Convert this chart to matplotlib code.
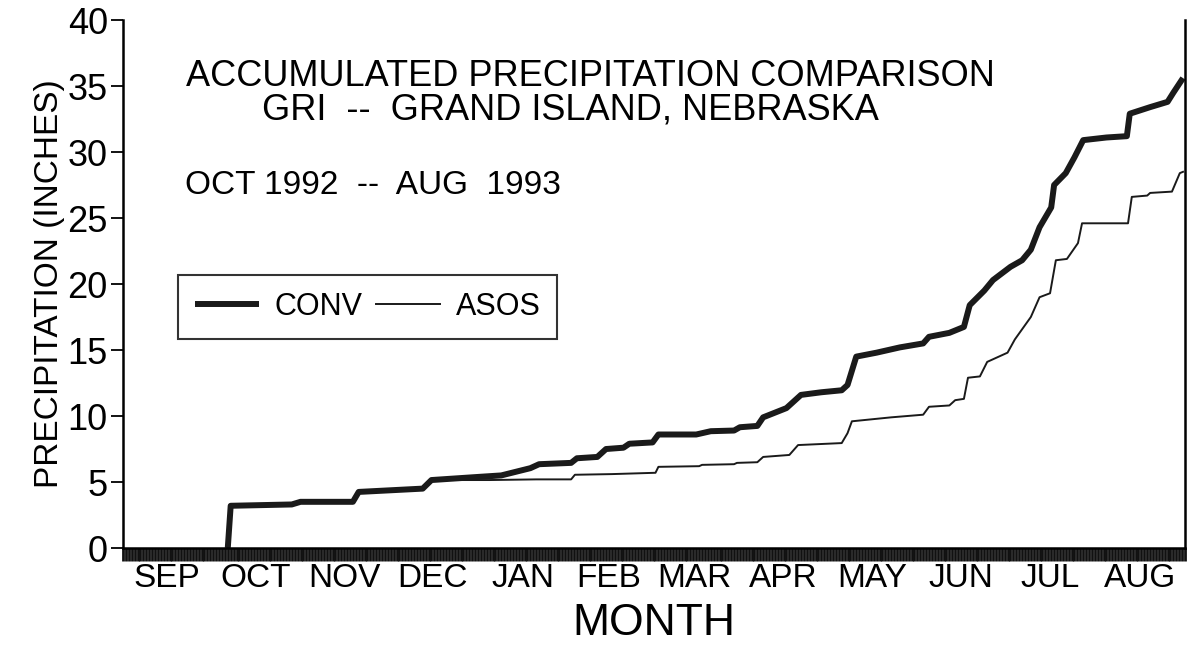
import numpy as np
import matplotlib
matplotlib.use("Agg")
import matplotlib.pyplot as plt

plt.rcParams['font.family'] = ['Liberation Sans', 'DejaVu Sans']

# ------------------------------------------------------------------------------
# Data: accumulated precipitation (inches), x = day since 1 Sep 1992
# ------------------------------------------------------------------------------
MONTHS = ["SEP", "OCT", "NOV", "DEC", "JAN", "FEB",
          "MAR", "APR", "MAY", "JUN", "JUL", "AUG"]
MONTH_DAYS = [30, 31, 30, 31, 31, 28, 31, 30, 31, 30, 31, 31]

conv_day = [36, 37, 58, 61, 79, 81, 103, 106, 123, 130, 140, 143, 154, 156,
            163, 166, 172, 174, 182, 184, 197, 202, 210, 212, 218, 220, 228,
            233, 240, 247, 249, 252, 259, 267, 275, 277, 284, 289, 291, 296,
            299, 305, 309, 312, 315, 319, 320, 324, 327, 330, 338, 345, 346,
            353, 359, 361, 364.3]
conv_in = [0, 3.2, 3.3, 3.5, 3.5, 4.25, 4.5, 5.15, 5.4, 5.5, 6.05, 6.35,
           6.45, 6.8, 6.9, 7.5, 7.6, 7.9, 8.0, 8.6, 8.6, 8.85, 8.9, 9.15, 9.25,
           9.9, 10.6, 11.6, 11.8, 11.95, 12.35, 14.5, 14.8, 15.2, 15.5, 16.0,
           16.3, 16.75, 18.4, 19.5, 20.3, 21.3, 21.8, 22.6, 24.3, 25.8, 27.5,
           28.4, 29.6, 30.9, 31.1, 31.2, 32.9, 33.4, 33.8, 34.5, 35.6]

asos_day = [36, 37, 58, 61, 79, 81, 103, 106, 126, 142, 154, 155.3,
            168, 183, 184, 198, 199, 210, 211, 218, 220, 226, 229, 232, 247,
            249, 250.5, 264, 275, 277, 284, 286, 289, 290.4, 294.5, 297, 301,
            304, 306.5, 312, 315, 318.6, 320.6, 324.4, 328.2, 329.6, 345.4,
            346.7, 352, 353, 360.5, 363.2, 364.3]
asos_in = [0, 3.2, 3.3, 3.5, 3.5, 4.25, 4.5, 5.15, 5.15, 5.2, 5.2,
           5.55, 5.6, 5.7, 6.15, 6.2, 6.3, 6.35, 6.45, 6.5, 6.9, 7.0, 7.05,
           7.8, 7.95, 8.7, 9.6, 9.9, 10.1, 10.7, 10.8, 11.2, 11.3, 12.9, 13.0,
           14.1, 14.5, 14.8, 15.8, 17.5, 19.0, 19.3, 21.8, 21.9, 23.1, 24.6,
           24.6, 26.6, 26.7, 26.9, 27.0, 28.4, 28.5]

# ------------------------------------------------------------------------------
fig = plt.figure(figsize=(11.91, 6.56), dpi=100)
ax = fig.add_axes([0.1033, 0.1646, 0.8917, 0.8049])

ax.plot(conv_day, conv_in, color="#1a1a1a", lw=4.3, solid_capstyle="butt",
        label="CONV")
ax.plot(asos_day, asos_in, color="#1a1a1a", lw=1.4, label="ASOS")

total = sum(MONTH_DAYS)
starts = np.concatenate([[0], np.cumsum(MONTH_DAYS)[:-1]])
centers = starts + np.array(MONTH_DAYS) / 2.0

ax.set_xlim(0, total)
ax.set_ylim(0, 40)
ax.set_yticks(np.arange(0, 41, 5))
ax.set_xticks(centers)
ax.set_xticklabels(MONTHS, fontsize=24)
ax.set_xticks(np.arange(0, total + 1, 1), minor=True)
ax.xaxis.remove_overlapping_locs = False   # keep daily ticks under labels
ax.tick_params(axis="x", which="major", length=0, pad=11)
ax.tick_params(axis="x", which="minor", direction="out", length=9, width=2.0,
               color="#111111")
ax.tick_params(axis="y", direction="out", length=9, width=1.3, labelsize=26,
               pad=2)

for side in ("left", "bottom", "right"):
    ax.spines[side].set_linewidth(1.8)
ax.spines["top"].set_visible(False)

ax.set_xlabel("MONTH", fontsize=32, labelpad=6)
ax.set_ylabel("PRECIPITATION (INCHES)", fontsize=24, labelpad=2)

ax.text(0.44, 0.893, "ACCUMULATED PRECIPITATION COMPARISON",
        transform=ax.transAxes, ha="center", va="center", fontsize=26)
ax.text(0.421, 0.83, "GRI  --  GRAND ISLAND, NEBRASKA",
        transform=ax.transAxes, ha="center", va="center", fontsize=26)
ax.text(0.058, 0.6875, "OCT 1992  --  AUG  1993",
        transform=ax.transAxes, ha="left", va="center", fontsize=24)

leg = ax.legend(loc="upper left", bbox_to_anchor=(0.052, 0.517), ncol=2,
                fontsize=22, frameon=True, fancybox=False, handlelength=2.1,
                handletextpad=0.5, columnspacing=0.45, borderpad=0.55,
                borderaxespad=0)
leg.get_frame().set_edgecolor("black")
leg.get_frame().set_linewidth(1.5)

fig.savefig("out.png", dpi=100)
